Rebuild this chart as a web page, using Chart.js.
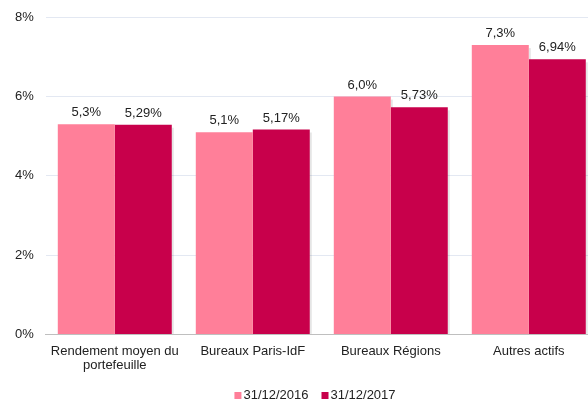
<!DOCTYPE html>
<html>
<head>
<meta charset="utf-8">
<script src="https://cdn.jsdelivr.net/npm/chart.js@4/dist/chart.umd.min.js"></script>
<style>
html,body{margin:0;padding:0;background:#fff;overflow:hidden;}
#wrap{width:588px;height:401px;position:relative;}
</style>
</head>
<body>
<div id="wrap"><canvas id="c" width="588" height="401"></canvas></div>
<script>
const categories = [["Rendement moyen du","portefeuille"],"Bureaux Paris-IdF","Bureaux Régions","Autres actifs"];
const seriesNames = ["31/12/2016","31/12/2017"];
const values2016 = [5.3, 5.1, 6.0, 7.3];
const values2017 = [5.29, 5.17, 5.73, 6.94];
const labels2016 = ["5,3%","5,1%","6,0%","7,3%"];
const labels2017 = ["5,29%","5,17%","5,73%","6,94%"];
const yTicks = [0,2,4,6,8];

const FONT = "'Liberation Sans', Arial, sans-serif";
const COLORS = ['#FF7F99', '#C8004B'];

// The original plot area runs slightly past the right edge of the picture
const extendPlot = {
  id:'extendPlot',
  afterLayout(chart){
    const x = chart.scales.x;
    x.right = x.left + 552;
    x.width = x.right - x.left;
    x.configure();
    const y = chart.scales.y;
    y.top -= 2.5;
    y.height = y.bottom - y.top;
    y.configure();
  }
};

const labelPlugin = {
  id:'barLabels',
  afterDatasetsDraw(chart){
    const ctx = chart.ctx;
    const lbls = [labels2016, labels2017];
    ctx.save();
    ctx.font = "13px " + FONT;
    ctx.fillStyle = "#222";
    ctx.textAlign = "center";
    ctx.textBaseline = "bottom";
    chart.data.datasets.forEach((ds, di) => {
      const meta = chart.getDatasetMeta(di);
      meta.data.forEach((bar, i) => {
        ctx.fillText(lbls[di][i], bar.x, bar.y - 5);
      });
    });
    ctx.restore();
  }
};

const shadowPlugin = {
  id:'barShadow',
  beforeDatasetsDraw(chart){
    const ctx = chart.ctx;
    ctx.save();
    ctx.fillStyle = "rgba(0,0,0,0.10)";
    chart.data.datasets.forEach((ds, di) => {
      const meta = chart.getDatasetMeta(di);
      meta.data.forEach((bar) => {
        const w = bar.width;
        ctx.fillRect(bar.x + w/2, bar.y + 3, 2, bar.base - bar.y - 3);
      });
    });
    ctx.restore();
  }
};

const legendPlugin = {
  id:'customLegend',
  afterDraw(chart){
    const ctx = chart.ctx;
    ctx.save();
    ctx.font = "13px " + FONT;
    ctx.textBaseline = "alphabetic";
    ctx.textAlign = "left";
    const box = 7, gapBox = 2, gapItem = 13;
    const items = chart.data.datasets.map(ds => ({label: ds.label, color: ds.backgroundColor, w: ctx.measureText(ds.label).width}));
    let total = 0;
    items.forEach((it, i) => { total += box + gapBox + it.w + (i < items.length - 1 ? gapItem : 0); });
    let x = 315 - total / 2;
    const base = 399;
    items.forEach(it => {
      ctx.fillStyle = it.color;
      ctx.fillRect(x, base - box, box, box);
      x += box + gapBox;
      ctx.fillStyle = "#222";
      ctx.fillText(it.label, x, base);
      x += it.w + gapItem;
    });
    ctx.restore();
  }
};

new Chart(document.getElementById('c'), {
  type:'bar',
  data:{
    labels: categories,
    datasets:[
      {label: seriesNames[0], data: values2016, backgroundColor: COLORS[0], borderWidth:0},
      {label: seriesNames[1], data: values2017, backgroundColor: COLORS[1], borderWidth:0}
    ]
  },
  options:{
    responsive:false,
    animation:false,
    devicePixelRatio:1,
    layout:{padding:{left:3,right:0,top:0,bottom:18}},
    datasets:{bar:{categoryPercentage:0.826, barPercentage:1.0}},
    scales:{
      x:{
        grid:{display:false, drawTicks:false},
        border:{display:true, color:'#BFBFBF', width:1},
        ticks:{font:{family:FONT,size:13,lineHeight:1.1}, color:'#222', padding:10, maxRotation:0, autoSkip:false}
      },
      y:{
        min:0, max:8,
        afterBuildTicks(axis){ axis.ticks = yTicks.map(v=>({value:v})); },
        grid:{color:'#E3E8F2', drawTicks:false},
        border:{display:false},
        ticks:{font:{family:FONT,size:13}, color:'#222', padding:12, callback:v=>v+'%'}
      }
    },
    plugins:{
      legend:{display:false},
      tooltip:{enabled:false}
    }
  },
  plugins:[extendPlot, shadowPlugin, labelPlugin, legendPlugin]
});
</script>
</body>
</html>
